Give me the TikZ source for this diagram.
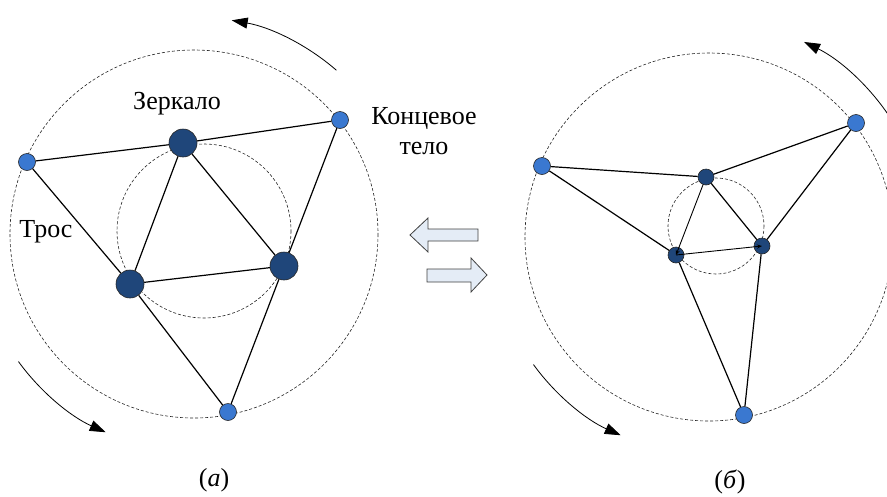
\documentclass[tikz,border=0pt]{standalone}
\usepackage{fontspec}
\setmainfont{Liberation Serif}
\newfontfamily\labelfont{Liberation Serif}
\usetikzlibrary{arrows.meta}
\definecolor{endblue}{RGB}{58,120,208}
\definecolor{mirrorblue}{RGB}{31,70,122}
\definecolor{arrfill}{RGB}{228,236,246}
\begin{document}
\begin{tikzpicture}[x=1pt,y=-1pt,
  endbody/.style={circle,draw=black!85,line width=0.6pt,fill=endblue,minimum size=17pt,inner sep=0pt},
  bigmirror/.style={circle,draw=black!85,line width=0.6pt,fill=mirrorblue,minimum size=28pt,inner sep=0pt},
  smallmirror/.style={circle,draw=black!85,line width=0.6pt,fill=mirrorblue,minimum size=16pt,inner sep=0pt},
  tether/.style={line width=1.2pt,black},
  orbit/.style={dash pattern=on 3pt off 2pt,line width=0.6pt,black!85},
  rot/.style={line width=0.8pt,-{Triangle[length=16pt,width=11pt]}},
  blockarr/.style={draw=black!75,line width=0.8pt,fill=arrfill},
  lbl/.style={font=\labelfont\fontsize{26}{30}\selectfont,inner sep=0pt}]
\useasboundingbox (0,0) rectangle (887,496);
\clip (0,0) rectangle (887,496);

% ---------- (a) ----------
\draw[orbit] (194,234) circle[radius=184];
\draw[orbit] (204,231) circle[radius=87];
\draw[rot] (194,234) ++(-49:217) arc[start angle=-49,end angle=-80,radius=217];
\draw[rot] (194,234) ++(-216:217) arc[start angle=-216,end angle=-246,radius=217];

\node[endbody] (aL) at (27,162) {};
\node[endbody] (aR) at (340,120) {};
\node[endbody] (aB) at (228,412) {};
\node[bigmirror] (aT) at (183,143) {};
\node[bigmirror] (aML) at (130,284) {};
\node[bigmirror] (aMR) at (284,266) {};

\draw[tether] (aL) -- (aT) -- (aR) -- (aMR) -- (aB) -- (aML) -- (aL);
\draw[tether] (aT) -- (aML) -- (aMR) -- (aT);

\node[lbl] (lz) at (177,104) {Зеркало};
\node[lbl,align=center] (lk) at (424,131) {Концевое\\тело};
\node[lbl] (lt) at (46,232) {Трос};
\node[lbl] (la) at (214,480) {(\textit{а})};

% ---------- middle arrows ----------
\draw[blockarr] (410,235) -- (428,218) -- (428,229) -- (478,229) -- (478,241) -- (428,241) -- (428,252) -- cycle;
\draw[blockarr] (487,275) -- (471,258) -- (471,269) -- (427,269) -- (427,282) -- (471,282) -- (471,292) -- cycle;

% ---------- (b) ----------
\draw[orbit] (709,237) circle[radius=184];
\draw[orbit] (716,226) circle[radius=48];
\draw[rot] (709,237) ++(-33:217) arc[start angle=-33,end angle=-64,radius=217];
\draw[rot] (709,237) ++(-216:217) arc[start angle=-216,end angle=-246,radius=217];

\node[endbody] (bL) at (542,166) {};
\node[endbody] (bR) at (856,123) {};
\node[endbody] (bB) at (744,415) {};
\node[smallmirror] (bT) at (706,177) {};
\node[smallmirror] (bML) at (676,255) {};
\node[smallmirror] (bMR) at (762,246) {};

\draw[tether] (bL) -- (bT) -- (bR) -- (bMR) -- (bB) -- (bML) -- (bL);
\draw[tether] (bMR) -- (bT);
\draw[line width=0.9pt,-{Stealth[length=5pt,width=4pt]}] (bT) -- (bML.center);
\draw[line width=0.9pt,-{Stealth[length=5pt,width=4pt]}] (bML.center) -- (bMR.center);

\node[lbl] (lb) at (730,482) {(\textit{б})};
\end{tikzpicture}
\end{document}
